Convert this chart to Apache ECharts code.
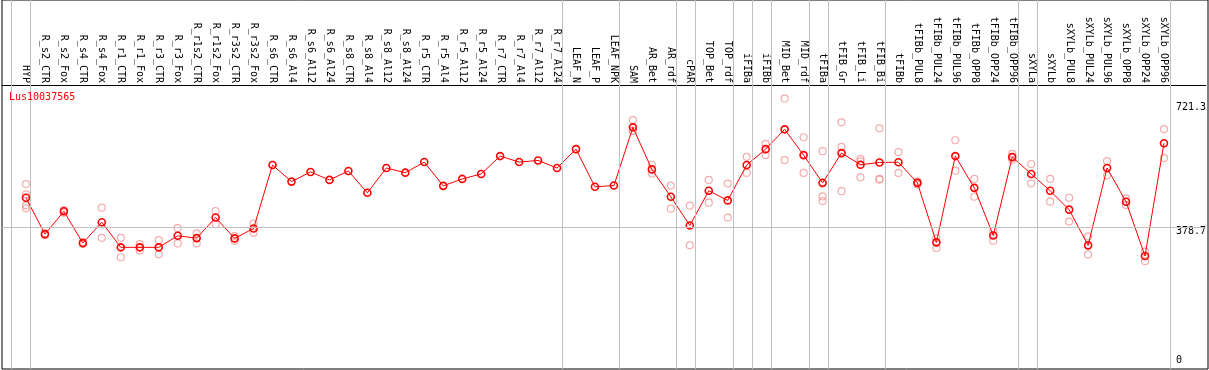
<!DOCTYPE html>
<html>
<head>
<meta charset="utf-8">
<script src="https://cdn.jsdelivr.net/npm/echarts@6/dist/echarts.min.js"></script>
<style>
html,body{margin:0;padding:0;background:#fff;}
#chart{width:1209px;height:370px;}
</style>
</head>
<body>
<div id="chart"></div>
<script>
const geneName = 'Lus10037565';
const categories = ['HYP','R_s2_CTR','R_s2_Fox','R_s4_CTR','R_s4_Fox','R_r1_CTR','R_r1_Fox','R_r3_CTR','R_r3_Fox','R_r1s2_CTR','R_r1s2_Fox','R_r3s2_CTR','R_r3s2_Fox','R_s6_CTR','R_s6_Al4','R_s6_Al12','R_s6_Al24','R_s8_CTR','R_s8_Al4','R_s8_Al12','R_s8_Al24','R_r5_CTR','R_r5_Al4','R_r5_Al12','R_r5_Al24','R_r7_CTR','R_r7_Al4','R_r7_Al12','R_r7_Al24','LEAF_N','LEAF_P','LEAF_NPK','SAM','AR_Bet','AR_rdf','cPAR','TOP_Bet','TOP_rdf','iFIBa','iFIBb','MID_Bet','MID_rdf','tFIBa','tFIB_Gr','tFIB_Li','tFIB_Bi','tFIBb','tFIBb_PUL8','tFIBb_PUL24','tFIBb_PUL96','tFIBb_OPP8','tFIBb_OPP24','tFIBb_OPP96','sXYLa','sXYLb','sXYLb_PUL8','sXYLb_PUL24','sXYLb_PUL96','sXYLb_OPP8','sXYLb_OPP24','sXYLb_OPP96'];
const means = [457.8,361.0,421.7,337.3,392.7,326.0,326.0,326.0,356.6,350.5,405.1,349.7,376.1,544.7,500.7,526.3,505.2,528.9,470.9,536.8,524.4,552.6,489.4,507.8,521.0,568.5,552.6,556.9,536.8,586.9,486.8,490.2,644.9,533.1,460.4,384.0,476.2,450.7,544.7,586.9,639.6,571.1,497.3,576.4,545.5,551.6,552.1,497.3,339.2,568.5,484.1,357.6,565.8,521.0,476.2,426.1,331.3,536.8,447.2,303.1,602.7];
const replicates = [
  [494.1,466.5,437.5,429.6],[359,363],[425,418],[340,335],[431.4,351.3],[351.3,299.6],[334.7,317.0],[345.2,307.5],[376.9,336.5],[362.9,336.5],[422.5,387.4],[355.8,343.4],[389.3,364.5],
  [],[],[],[],[],[],[],[],[],[],[],[],[],[],[],[],[],[],[],
  [664.1,635.1,636],[545.5,521.8],[490.2,428.8],[436.7,331.3],[505.2,444.6],[495.5,405.1],[566.6,523.7],[600.9,571.1],[721.3,557.9],[618.5,523.7],[581.6,461.2,448.8],[658.1,593.0,475.2],[561.3,554.2,512.1],[642.3,507.8,506],[579.0,523.7],[501.5,492.8],[350.5,324.2],[610.6,529.7],[507.8,460.4],[369.7,343.4],[574.5,558.7],[547.4,496.2],[507.8,447.2],[457.8,394.5],[355.0,306.5],[555.3,517.3],[455.9,438.3],[314.4,289.1],[640.4,563.2]
];
const yTickValues = [0, 378.7, 721.3];
const referenceLine = 378.7;
const groupEnds = ['HYP','R_r7_Al24','LEAF_NPK','AR_rdf','cPAR','TOP_rdf','iFIBa','iFIBb','MID_rdf','tFIBa','tFIB_Bi','tFIBb_OPP96','sXYLa','sXYLb_OPP96'];

// layout helpers (pixel geometry)
const STEP = 19, FIRST = 26, GL = 2, GR = 1208;
const xMin = (GL - FIRST) / STEP, xMax = (GR - FIRST) / STEP;
const SEP_OFF = 4.5 / STEP;
const mono = 'DejaVu Sans Mono';

const sepValues = [-1 + SEP_OFF].concat(groupEnds.map(n => categories.indexOf(n) + SEP_OFF));
const meanData = means.map((v, i) => [i, v]);
const repData = [];
replicates.forEach((arr, i) => arr.forEach(v => repData.push([i, v])));
const labelStyles = ['lo', 'mid', 'hi'];

const chart = echarts.init(document.getElementById('chart'), null, {renderer: 'canvas'});
chart.setOption({
  animation: false,
  backgroundColor: '#fff',
  title: {
    text: geneName, left: 9, top: 92, padding: 0,
    textStyle: {color: '#ff0000', fontFamily: mono, fontSize: 10, fontWeight: 'normal'}
  },
  grid: [
    {left: GL, right: 1209 - GR, top: 0, bottom: 1, show: true, borderColor: '#000', borderWidth: 1, backgroundColor: 'transparent', containLabel: false},
    {left: GL, right: 1209 - GR, top: 85, bottom: -2, show: false, containLabel: false}
  ],
  xAxis: [
    {type: 'value', gridIndex: 0, min: xMin, max: xMax, show: false},
    {type: 'value', gridIndex: 1, min: xMin, max: xMax, position: 'top',
     axisLine: {show: true, onZero: false, lineStyle: {color: '#000', width: 1}},
     axisTick: {show: false}, splitLine: {show: false},
     axisLabel: {
       customValues: categories.map((c, i) => i),
       formatter: v => categories[Math.round(v)] || '',
       rotate: 90, margin: 2, color: '#000', fontFamily: mono, fontSize: 10
     }}
  ],
  yAxis: [
    {type: 'value', gridIndex: 0, min: 0, max: 1, show: false},
    {type: 'value', gridIndex: 1, min: 0, max: 757.4, position: 'right',
     axisLine: {show: false}, axisTick: {show: false}, splitLine: {show: false},
     axisLabel: {
       customValues: yTickValues,
       inside: true, margin: 30, align: 'left', color: '#000', fontFamily: mono, fontSize: 10,
       formatter: (v) => {
         const idx = yTickValues.indexOf(v);
         return '{' + labelStyles[idx < 0 ? 1 : idx] + '|' + v + '}';
       },
       rich: {
         hi: {padding: [18, 0, 0, 0], fontFamily: mono, fontSize: 10, color: '#000'},
         mid: {padding: [8, 0, 0, 0], fontFamily: mono, fontSize: 10, color: '#000'},
         lo: {padding: [0, 0, 20, 0], fontFamily: mono, fontSize: 10, color: '#000'}
       }
     }}
  ],
  series: [
    {
      type: 'scatter', xAxisIndex: 0, yAxisIndex: 0, data: [], silent: true, z: 1,
      markLine: {
        silent: true, symbol: 'none', label: {show: false},
        lineStyle: {color: '#c0c0c0', width: 1, type: 'solid'},
        data: sepValues.map(v => ({xAxis: v}))
      }
    },
    {
      type: 'scatter', xAxisIndex: 1, yAxisIndex: 1, data: repData, z: 3,
      symbol: 'circle', symbolSize: 7,
      itemStyle: {color: 'rgba(0,0,0,0)', borderColor: '#f09696', borderWidth: 1.2}
    },
    {
      type: 'line', xAxisIndex: 1, yAxisIndex: 1, data: meanData, z: 4,
      symbol: 'circle', symbolSize: 7, showAllSymbol: true,
      lineStyle: {color: '#ff0000', width: 1},
      itemStyle: {color: 'rgba(0,0,0,0)', borderColor: '#ff0000', borderWidth: 1.6},
      markLine: {
        silent: true, symbol: 'none', label: {show: false},
        lineStyle: {color: '#c0c0c0', width: 1, type: 'solid'},
        data: [{yAxis: referenceLine}]
      }
    }
  ]
});
</script>
</body>
</html>
